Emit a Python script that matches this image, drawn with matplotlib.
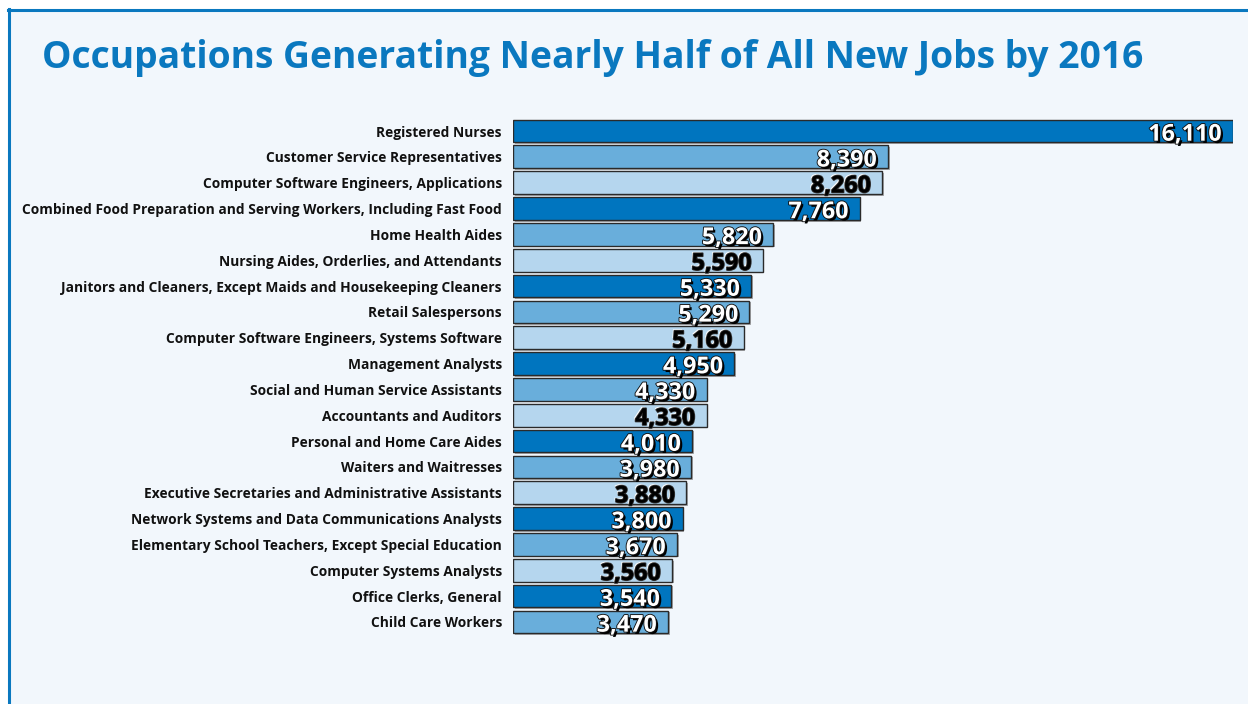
import matplotlib.pyplot as plt
import matplotlib.patheffects as pe
from matplotlib.patches import Rectangle
from matplotlib.lines import Line2D

# Data
occupations = [
    'Registered Nurses',
    'Customer Service Representatives',
    'Computer Software Engineers, Applications',
    'Combined Food Preparation and Serving Workers, Including Fast Food',
    'Home Health Aides',
    'Nursing Aides, Orderlies, and Attendants',
    'Janitors and Cleaners, Except Maids and Housekeeping Cleaners',
    'Retail Salespersons',
    'Computer Software Engineers, Systems Software',
    'Management Analysts',
    'Social and Human Service Assistants',
    'Accountants and Auditors',
    'Personal and Home Care Aides',
    'Waiters and Waitresses',
    'Executive Secretaries and Administrative Assistants',
    'Network Systems and Data Communications Analysts',
    'Elementary School Teachers, Except Special Education',
    'Computer Systems Analysts',
    'Office Clerks, General',
    'Child Care Workers',
]
new_jobs = [16110, 8390, 8260, 7760, 5820, 5590, 5330, 5290, 5160, 4950,
            4330, 4330, 4010, 3980, 3880, 3800, 3670, 3560, 3540, 3470]

palette = ['#0075bf', '#69aedb', '#b5d6ee']
W, H = 1248, 704

fig = plt.figure(figsize=(W / 100, H / 100), dpi=100, facecolor='white')

# panel background + blue frame on top and left
fig.add_artist(Rectangle((8 / W, 0), 1, 1 - 9 / H, transform=fig.transFigure,
                         facecolor='#f2f7fc', edgecolor='none', zorder=0))
fig.add_artist(Line2D([8.5 / W, 8.5 / W], [0, 1 - 9 / H], transform=fig.transFigure,
                      color='#0a78bf', lw=2.2))
fig.add_artist(Line2D([8 / W, 1], [1 - 9.5 / H, 1 - 9.5 / H], transform=fig.transFigure,
                      color='#0a78bf', lw=2.2))

fig.text(42 / W, 1 - 68 / H, 'Occupations Generating Nearly Half of All New Jobs by 2016',
         fontsize=26.8, fontweight='bold', color='#0a78bf', family='Open Sans',
         va='baseline', ha='left')

# axes: x 0..16110 spans px 513..1233, rows 25.84 px apart starting at y=131
row = 25.84
top = 131 - row / 2
ax = fig.add_axes([513 / W, 1 - (top + 20 * row) / H, 720 / W, 20 * row / H])
ax.set_facecolor('none')

y = list(range(len(occupations)))
colors = [palette[i % 3] for i in y]
bars = ax.barh(y, new_jobs, height=0.88, color=colors, edgecolor='#2a2a2a', linewidth=1.0)
for b in bars:
    b.set_path_effects([pe.SimplePatchShadow(offset=(1.2, -1.2), shadow_rgbFace='#777777', alpha=0.6),
                        pe.Normal()])

ax.set_xlim(0, 16110)
ax.set_ylim(len(occupations) - 0.5, -0.5)
ax.set_yticks(y)
ax.set_yticklabels(occupations, fontsize=9.9, fontweight='bold', family='Open Sans', color='#111111')
ax.tick_params(axis='y', length=0, pad=8)
ax.set_xticks([])
for s in ax.spines.values():
    s.set_visible(False)

for i, v in enumerate(new_jobs):
    if i % 3 == 2:
        fc = 'black'
        effects = [pe.SimplePatchShadow(offset=(-1, 1), shadow_rgbFace='white', alpha=1),
                   pe.withStroke(linewidth=1.2, foreground='#333333')]
    else:
        fc = 'white'
        effects = [pe.SimplePatchShadow(offset=(1.6, -1.6), shadow_rgbFace='black', alpha=1),
                   pe.withStroke(linewidth=1.3, foreground='#111111')]
    ax.annotate(f'{v:,}', xy=(v, i), xytext=(-8, -7.0), textcoords='offset points',
                ha='right', va='baseline', fontsize=16.8, fontweight='bold',
                family='Open Sans', color=fc, path_effects=effects)

fig.savefig('out.png', dpi=100, facecolor='white')
